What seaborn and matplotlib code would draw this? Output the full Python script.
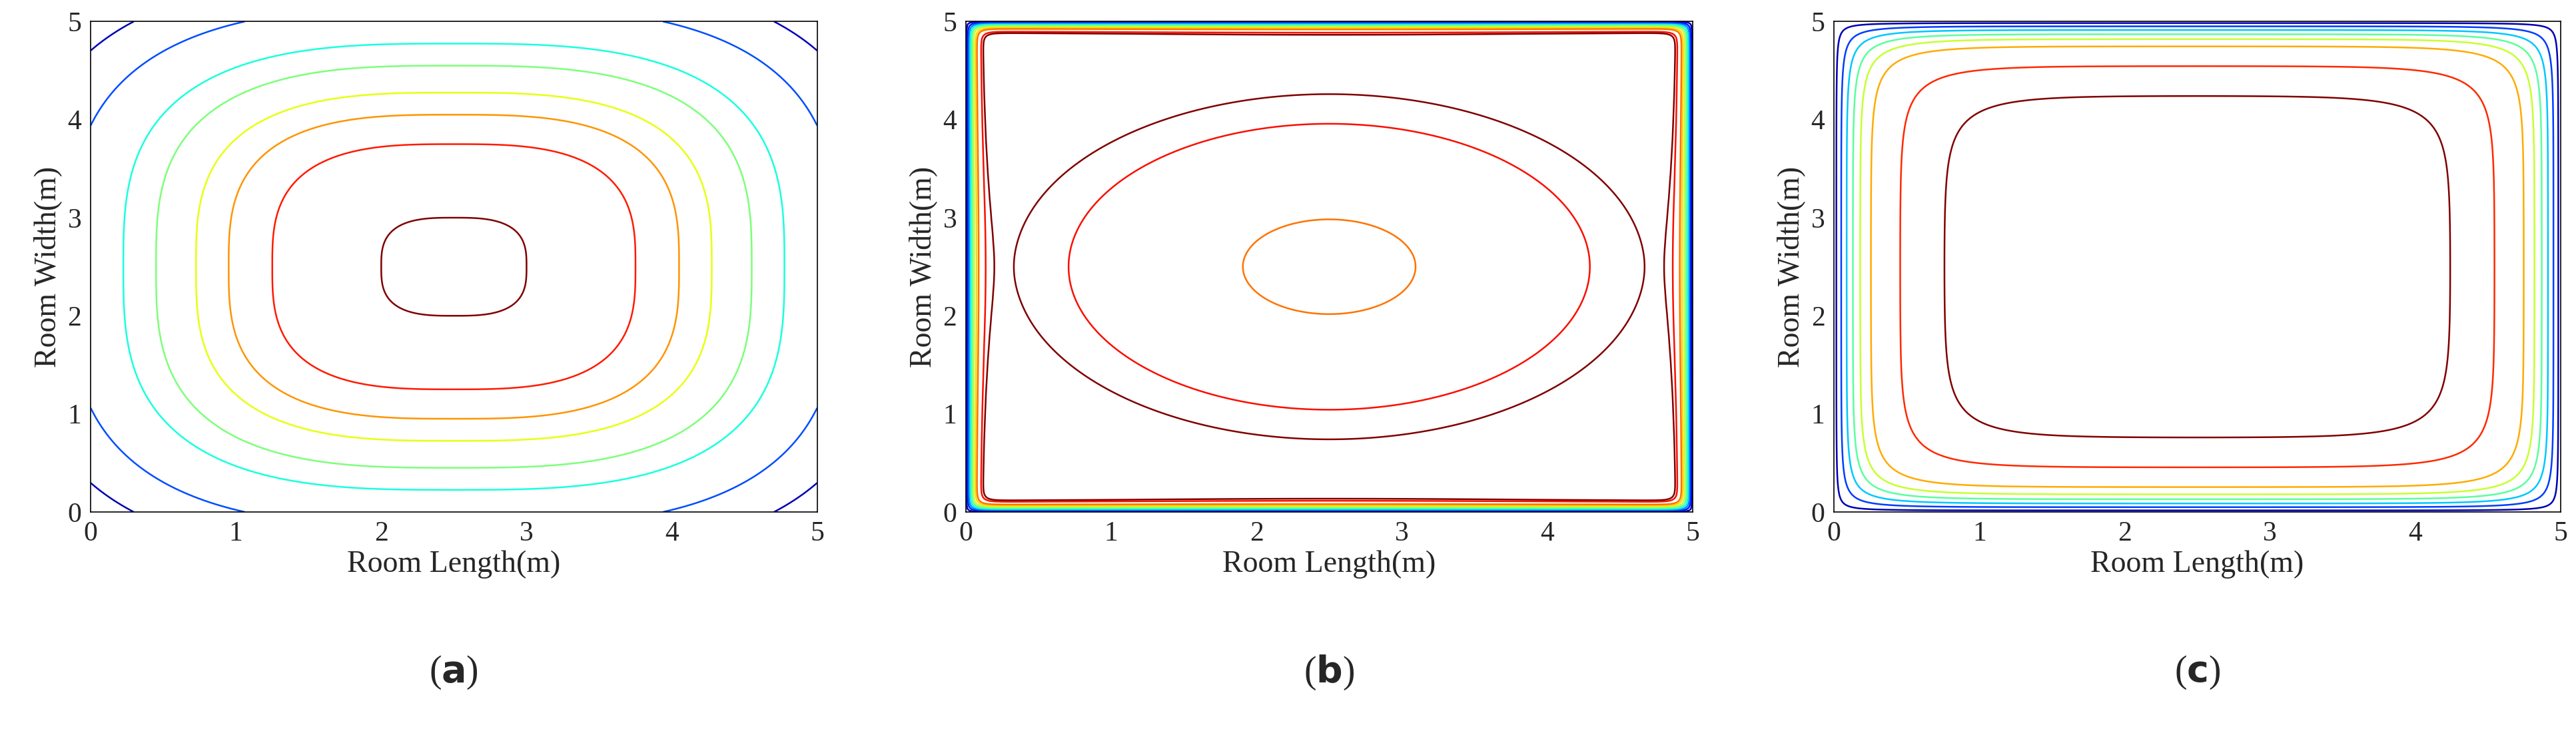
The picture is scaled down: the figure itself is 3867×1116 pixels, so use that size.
import numpy as np
import matplotlib
matplotlib.use("Agg")
import matplotlib.pyplot as plt
import seaborn as sns

sns.set_style("white")
plt.rcParams['font.family'] = ['Liberation Serif', 'DejaVu Serif']

room_len = 5.0
room_wid = 5.0
ticks = [0, 1, 2, 3, 4, 5]
panel_labels = ["a", "b", "c"]
levels_a = [0.2, 0.5, 0.62, 0.71, 0.82, 0.91, 1.06, 1.19]
levels_b = [0.05, 0.15, 0.25, 0.35, 0.45, 0.55, 0.65, 0.72, 0.84, 0.88]
levels_c = [0.05, 0.15, 0.25, 0.35, 0.45, 0.57, 0.78, 0.92]

x = np.linspace(0, room_len, 401)
y = np.linspace(0, room_wid, 401)
X, Y = np.meshgrid(x, y)
U = (X - 2.5) / 2.5
V = (Y - 2.5) / 2.5

Ra = (np.abs(U)**3 + np.abs(V)**3) ** (1 / 3)

Eb = np.tanh(X / 0.08) * np.tanh((5 - X) / 0.08) * np.tanh(Y / 0.08) * np.tanh((5 - Y) / 0.08)
Fb = Eb * (1 - 0.3 * np.exp(-((X - 2.5)**2 / (2 * 1.6**2) + (Y - 2.5)**2 / (2 * 1.3**2))))

def edge(t, w):
    return 1 - np.exp(-t / w) - np.exp(-(5 - t) / w)
Fc = np.clip(edge(X, 0.3), 0, None) * np.clip(edge(Y, 0.3), 0, None)

jet = plt.get_cmap("jet")
cols_a = [jet(v) for v in [1.0, 0.88, 0.75, 0.63, 0.5, 0.38, 0.2, 0.05]]
cols_b = [jet(v) for v in np.linspace(0.05, 1.0, len(levels_b))]
cols_c = [jet(v) for v in np.linspace(0.05, 1.0, len(levels_c))]

fig = plt.figure(figsize=(38.67, 11.16), dpi=100)
lefts = [0.0352, 0.375, 0.712]
fields = [Ra, Fb, Fc]
levs = [levels_a, levels_b, levels_c]
cols = [cols_a, cols_b, cols_c]
for i in range(3):
    ax = fig.add_axes([lefts[i], 0.311, 0.282, 0.660])
    ax.contour(X, Y, fields[i], levels=levs[i], colors=cols[i], linewidths=1.8)
    ax.set_xlim(0, 5); ax.set_ylim(0, 5)
    ax.set_xticks(ticks); ax.set_yticks(ticks)
    ax.tick_params(labelsize=30, direction="in", length=8, width=1.2, pad=10)
    for s in ax.spines.values():
        s.set_linewidth(1.2); s.set_color("black")
    ax.set_xlabel("Room Length(m)", fontsize=33, labelpad=4)
    ax.set_ylabel("Room Width(m)", fontsize=33, labelpad=6)
    fig.text(lefts[i] + 0.141, 0.095, r"(" + r"$\bf{" + panel_labels[i] + r"}$" + ")", fontsize=40,
             ha="center", va="center")
fig.savefig("out.png", dpi=100)
